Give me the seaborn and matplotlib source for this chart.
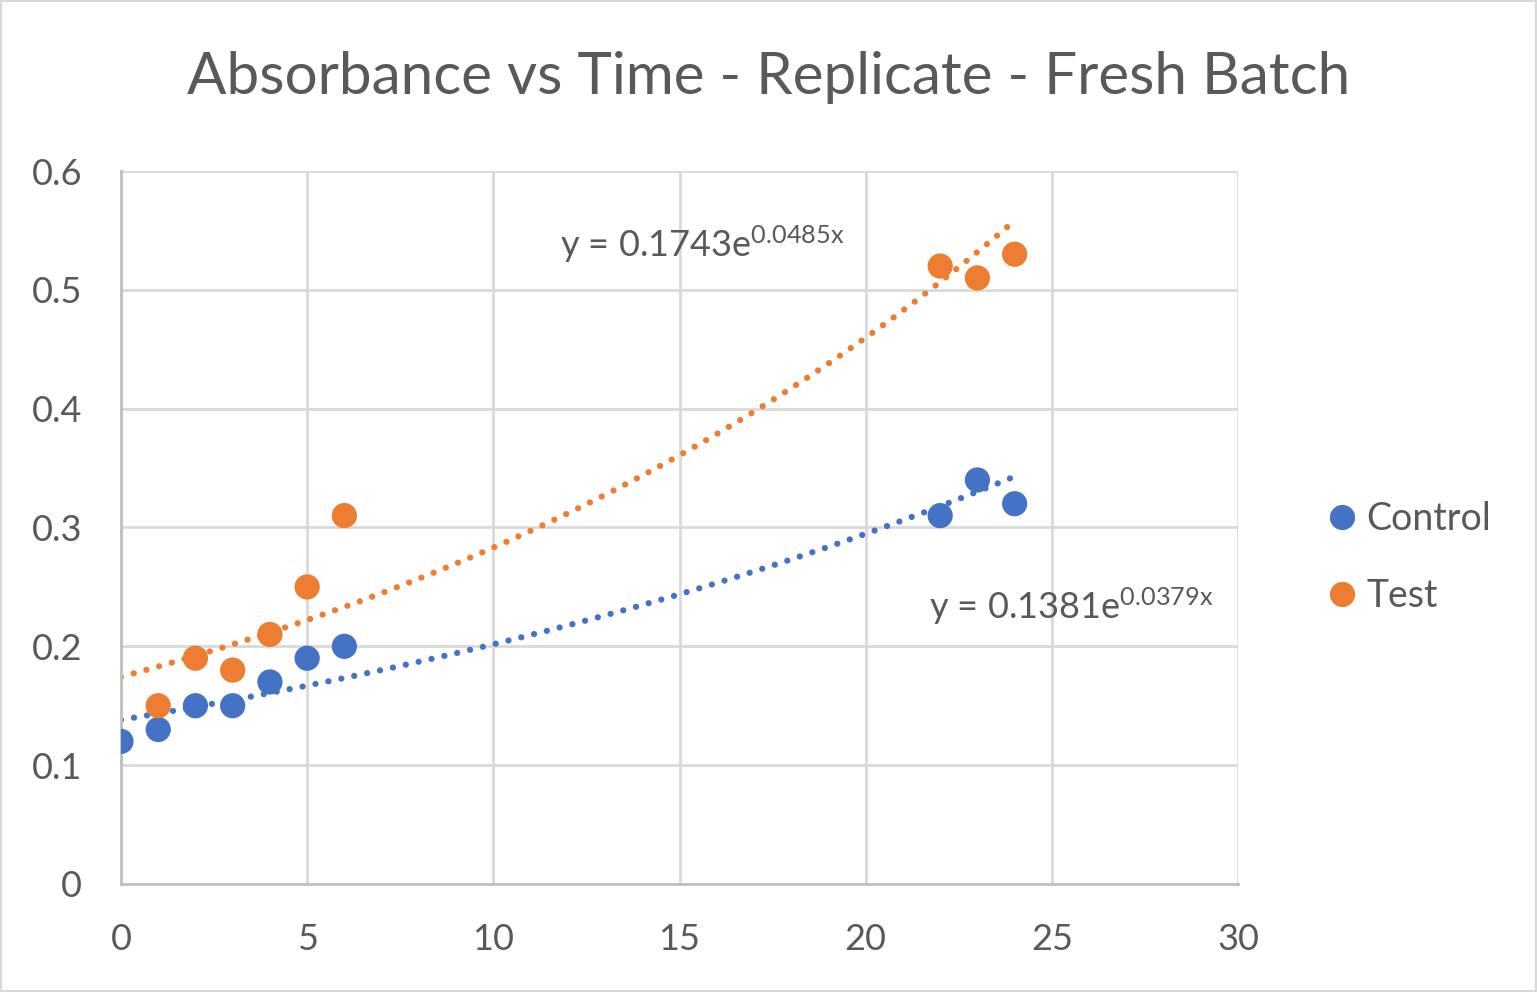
import numpy as np
import pandas as pd
import seaborn as sns
import matplotlib.pyplot as plt
from matplotlib.patches import Rectangle

# data
control_time = [0, 1, 2, 3, 4, 5, 6, 22, 23, 24]
control_abs = [0.12, 0.13, 0.15, 0.15, 0.17, 0.19, 0.20, 0.31, 0.34, 0.32]
test_time = [1, 2, 3, 4, 5, 6, 22, 23, 24]
test_abs = [0.15, 0.19, 0.18, 0.21, 0.25, 0.31, 0.52, 0.51, 0.53]

# exponential trendline coefficients (y = a * e^(b x))
control_fit = (0.1381, 0.0379)
test_fit = (0.1743, 0.0485)

blue = '#4472C4'
orange = '#ED7D31'
text_grey = '#595959'
grid_grey = '#D9D9D9'

sns.set_theme(style='white')
plt.rcParams['font.family'] = ['Lato', 'DejaVu Sans']
plt.rcParams['mathtext.default'] = 'regular'

df = pd.concat([
    pd.DataFrame({'Time': control_time, 'Absorbance': control_abs, 'Series': 'Control'}),
    pd.DataFrame({'Time': test_time, 'Absorbance': test_abs, 'Series': 'Test'}),
])

fig = plt.figure(figsize=(15.37, 9.92), dpi=100)
ax = fig.add_axes([0.0787, 0.1089, 0.7268, 0.7187])

# trendlines, round dots
xs = np.linspace(0, 24, 300)
for (a, b), col in [(control_fit, blue), (test_fit, orange)]:
    ax.plot(xs, a * np.exp(b * xs), color=col, lw=4.5, ls=(0, (0.01, 2.1)),
            dash_capstyle='round', zorder=2)

sns.scatterplot(data=df, x='Time', y='Absorbance', hue='Series',
                palette={'Control': blue, 'Test': orange}, s=330,
                edgecolor='none', ax=ax, zorder=3)

ax.set_xlim(0, 30)
ax.set_ylim(0, 0.6)
ax.set_xticks(range(0, 31, 5))
ax.set_yticks([0, 0.1, 0.2, 0.3, 0.4, 0.5, 0.6])
ax.set_yticklabels(['0', '0.1', '0.2', '0.3', '0.4', '0.5', '0.6'])
ax.grid(True, color=grid_grey, lw=2)
ax.set_axisbelow(True)
for side in ['top', 'right']:
    ax.spines[side].set_visible(False)
for side in ['left', 'bottom']:
    ax.spines[side].set_color('#BFBFBF')
    ax.spines[side].set_linewidth(2)
ax.tick_params(axis='both', labelsize=26, colors=text_grey, length=0)
ax.tick_params(axis='y', pad=28)
ax.tick_params(axis='x', pad=28)
ax.set_xlabel('')
ax.set_ylabel('')

ax.text(11.8, 0.538, 'y = 0.1743e$^{0.0485x}$', fontsize=26, color=text_grey,
        ha='left', va='center')
ax.text(21.7, 0.234, 'y = 0.1381e$^{0.0379x}$', fontsize=26, color=text_grey,
        ha='left', va='center')

fig.suptitle('Absorbance vs Time - Replicate - Fresh Batch', fontsize=42,
             color=text_grey, x=0.5, y=0.922, va='center')

leg = ax.legend(loc='center left', bbox_to_anchor=(1.076, 0.458), frameon=False,
                fontsize=27, labelspacing=1.1, handletextpad=0.15,
                handlelength=1.0, borderpad=0, borderaxespad=0,
                markerscale=1.0, title=None)
for t in leg.get_texts():
    t.set_color(text_grey)

fig.patches.append(Rectangle((0, 0), 1, 1, transform=fig.transFigure,
                             fill=False, edgecolor=grid_grey, lw=3))

fig.savefig('out.png', dpi=100)
